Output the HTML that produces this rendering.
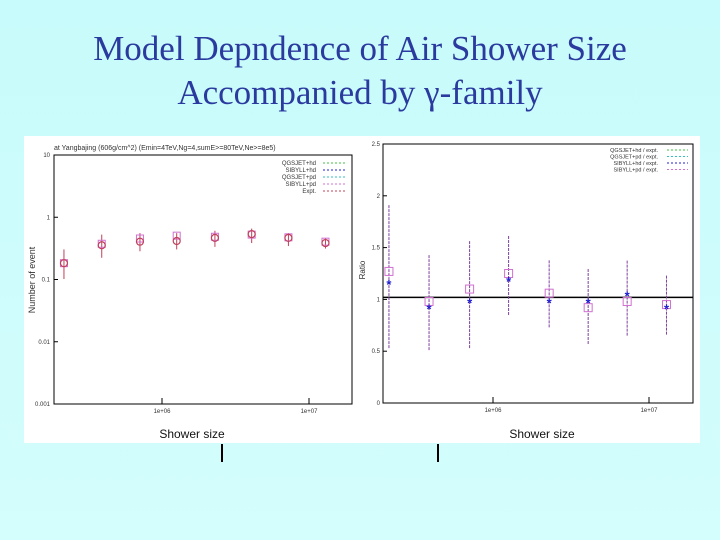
<!DOCTYPE html>
<html><head><meta charset="utf-8"><style>
html,body{margin:0;padding:0;background:#ccfdfd;}
body{width:720px;height:540px;overflow:hidden;}
svg{display:block;}
</style></head><body>
<svg width="720" height="540" xmlns="http://www.w3.org/2000/svg" id="root">
<defs><linearGradient id="bg" x1="0" y1="0" x2="0" y2="1"><stop offset="0" stop-color="#c8fbfb"/><stop offset="1" stop-color="#d4fdfd"/></linearGradient></defs>
<rect width="720" height="540" fill="url(#bg)"/>
<text x="360" y="60" text-anchor="middle" font-family="Liberation Serif, serif" font-size="35" fill="#2a3a9e">Model Depndence of Air Shower Size</text>
<text x="360" y="104" text-anchor="middle" font-family="Liberation Serif, serif" font-size="35" fill="#2a3a9e">Accompanied by γ-family</text>
<rect x="24" y="136" width="676" height="307" fill="#ffffff"/>
<line x1="222" y1="444" x2="222" y2="462" stroke="#000" stroke-width="2"/>
<line x1="438" y1="444" x2="438" y2="462" stroke="#000" stroke-width="2"/>
<g id="left"></g>
<g id="right"></g>
</svg>
<script>
// Left chart data (number of events, log scale)
const logX = [5.333, 5.59, 5.85, 6.10, 6.36, 6.61, 6.86, 7.112];
const exptVals = [0.18, 0.35, 0.40, 0.41, 0.46, 0.53, 0.46, 0.38];
const exptLo = [0.10, 0.22, 0.28, 0.30, 0.33, 0.38, 0.34, 0.31];
const exptHi = [0.30, 0.52, 0.55, 0.55, 0.60, 0.65, 0.55, 0.45];
const sibVals = [0.18, 0.37, 0.45, 0.50, 0.48, 0.52, 0.47, 0.40];
const leftYTicks = ["0.001","0.01","0.1","1","10"];
const leftXTicks = ["1e+06","1e+07"];
// Right chart data (ratio)
const ratioPd = [1.27, 0.98, 1.10, 1.25, 1.06, 0.92, 0.98, 0.95];
const ratioHd = [1.15, 0.91, 0.97, 1.18, 0.97, 0.97, 1.04, 0.91];
const ratioHi = [1.92, 1.43, 1.57, 1.62, 1.38, 1.30, 1.38, 1.23];
const ratioLo = [0.53, 0.51, 0.53, 0.85, 0.73, 0.57, 0.65, 0.66];
const rightYTicks = [0, 0.5, 1, 1.5, 2, 2.5];
const NS = "http://www.w3.org/2000/svg";
function mk(parent, tag, attrs, txt){const e=document.createElementNS(NS,tag);for(const k in attrs)e.setAttribute(k,attrs[k]);if(txt!==undefined)e.textContent=txt;parent.appendChild(e);return e;}

// LEFT
const L = document.getElementById('left');
const lx = v => 162 + (v-6)*147;
const ly = v => 217 - Math.log10(v)*62;
let f = mk(L,'rect',{x:54,y:155,width:298,height:249,fill:'none',stroke:'#000','stroke-width':1});


let t = mk(L,'text',{x:54,y:150,'font-family':'Liberation Sans, sans-serif','font-size':7,fill:'#333'},'at Yangbajing (606g/cm^2) (Emin=4TeV,Ng=4,sumE>=80TeV,Ne>=8e5)');


leftYTicks.forEach((lab,i)=>{const y=404-i*62.25;
 const tk=mk(L,'line',{x1:54,y1:y,x2:58,y2:y,stroke:'#000'});
 
 
 const tl=mk(L,'text',{x:50,y:y+2,'text-anchor':'end','font-family':'Liberation Sans, sans-serif','font-size':6,fill:'#333'},lab);
 
 });
leftXTicks.forEach((lab,i)=>{const x=lx(6+i);
 const tk=mk(L,'line',{x1:x,y1:404,x2:x,y2:398,stroke:'#000'});
 
 
 const tl=mk(L,'text',{x:x,y:413,'text-anchor':'middle','font-family':'Liberation Sans, sans-serif','font-size':6,fill:'#333'},lab);
 
 });
t=mk(L,'text',{x:0,y:0,transform:'translate(35,280) rotate(-90)','text-anchor':'middle','font-family':'Liberation Sans, sans-serif','font-size':9,fill:'#333'},'Number of event');


t=mk(L,'text',{x:192,y:438,'text-anchor':'middle','font-family':'Liberation Sans, sans-serif','font-size':12,fill:'#111'},'Shower size');


logX.forEach((v,i)=>{const x=lx(v);
 const eb=mk(L,'line',{x1:x,y1:ly(exptLo[i]),x2:x,y2:ly(exptHi[i]),stroke:'#c0405a','stroke-width':1});
 
 
 const sq=mk(L,'rect',{x:x-3.5,y:ly(sibVals[i])-3.5,width:7,height:7,fill:'none',stroke:'#d070d0','stroke-width':1});
 
 
 const c=mk(L,'circle',{cx:x,cy:ly(exptVals[i]),r:3.5,fill:'none',stroke:'#c0405a','stroke-width':1.2});
 
 });
const legL=['QGSJET+hd','SIBYLL+hd','QGSJET+pd','SIBYLL+pd','Expt.'];
const legLC=['#40c040','#2020d0','#30c0c0','#d070d0','#c0405a'];
legL.forEach((s,i)=>{const y=163+i*7;
 const tl=mk(L,'text',{x:316,y:y+2,'text-anchor':'end','font-family':'Liberation Sans, sans-serif','font-size':6,fill:'#333'},s);
 
 
 const ln=mk(L,'line',{x1:323,y1:y,x2:346,y2:y,stroke:legLC[i],'stroke-dasharray':'2,2'});
 
 });

// RIGHT
const R = document.getElementById('right');
const rx = v => 493 + (v-6)*156;
const ry = v => 403 - v*103.6;
f = mk(R,'rect',{x:383,y:144,width:310,height:259,fill:'none',stroke:'#000','stroke-width':1});


rightYTicks.forEach(v=>{const y=ry(v);
 const tk=mk(R,'line',{x1:383,y1:y,x2:387,y2:y,stroke:'#000'});
 
 
 const tl=mk(R,'text',{x:380,y:y+2,'text-anchor':'end','font-family':'Liberation Sans, sans-serif','font-size':6,fill:'#333'},String(v));
 
 });
leftXTicks.forEach((lab,i)=>{const x=rx(6+i);
 const tk=mk(R,'line',{x1:x,y1:403,x2:x,y2:397,stroke:'#000'});
 
 
 const tl=mk(R,'text',{x:x,y:412,'text-anchor':'middle','font-family':'Liberation Sans, sans-serif','font-size':6,fill:'#333'},lab);
 
 });
t=mk(R,'text',{x:0,y:0,transform:'translate(365,270) rotate(-90)','text-anchor':'middle','font-family':'Liberation Sans, sans-serif','font-size':8,fill:'#333'},'Ratio');


t=mk(R,'text',{x:542,y:438,'text-anchor':'middle','font-family':'Liberation Sans, sans-serif','font-size':12,fill:'#111'},'Shower size');


t=mk(R,'line',{x1:383,y1:ry(1.02),x2:693,y2:ry(1.02),stroke:'#000','stroke-width':1.5});


logX.forEach((v,i)=>{const x=rx(v);
 const eb=mk(R,'line',{x1:x,y1:ry(ratioLo[i]),x2:x,y2:ry(ratioHi[i]),stroke:'#8040a0','stroke-width':1,'stroke-dasharray':'3,1'});
 
 
 const sq=mk(R,'rect',{x:x-4,y:ry(ratioPd[i])-4,width:8,height:8,fill:'none',stroke:'#d070d0','stroke-width':1});
 
 
 const st=mk(R,'text',{x:x,y:ry(ratioHd[i])+5,'text-anchor':'middle','font-family':'Liberation Sans, sans-serif','font-size':13,'font-weight':'bold',fill:'#2020d0'},'*');
 
 });
const legR=['QGSJET+hd / expt.','QGSJET+pd / expt.','SIBYLL+hd / expt.','SIBYLL+pd / expt.'];
const legRC=['#40c040','#30c0c0','#2020d0','#d070d0'];
legR.forEach((s,i)=>{const y=150+i*6.5;
 const tl=mk(R,'text',{x:658,y:y+2,'text-anchor':'end','font-family':'Liberation Sans, sans-serif','font-size':5.5,fill:'#333'},s);
 
 
 const ln=mk(R,'line',{x1:667,y1:y,x2:688,y2:y,stroke:legRC[i],'stroke-dasharray':'2,2'});
 
 });
</script>
</body></html>
